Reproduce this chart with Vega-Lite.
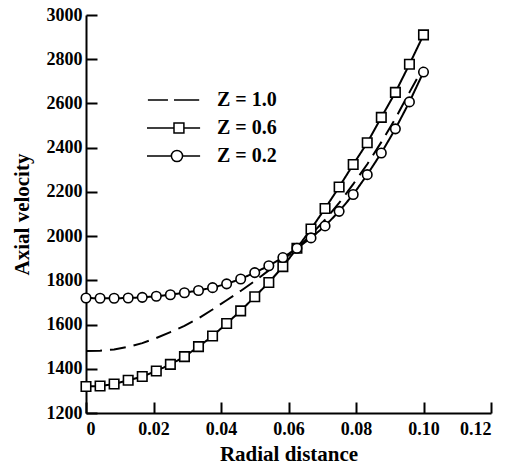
{
  "$schema": "https://vega.github.io/schema/vega-lite/v6.json",
  "width": 405,
  "height": 398,
  "autosize": {"type": "none"},
  "padding": {"left": 86, "top": 15, "right": 23, "bottom": 52},
  "background": "white",
  "config": {
    "view": {"stroke": null},
    "font": "Liberation Serif",
    "axis": {
      "grid": false,
      "domainColor": "black",
      "domainWidth": 2,
      "tickColor": "black",
      "tickWidth": 2,
      "tickSize": -11,
      "labelFont": "Liberation Serif",
      "labelFontSize": 18,
      "labelFontWeight": "bold",
      "labelColor": "black",
      "titleFont": "Liberation Serif",
      "titleFontSize": 21,
      "titleFontWeight": "bold",
      "titleColor": "black"
    },
    "legend": {
      "labelFont": "Liberation Serif",
      "labelFontSize": 20,
      "labelFontWeight": "bold",
      "labelColor": "black"
    }
  },
  "data": {
    "values": [
      {"r": 0, "v": 1480, "z": "Z = 1.0"},
      {"r": 0.00417, "v": 1482, "z": "Z = 1.0"},
      {"r": 0.00833, "v": 1487, "z": "Z = 1.0"},
      {"r": 0.0125, "v": 1499, "z": "Z = 1.0"},
      {"r": 0.01667, "v": 1516, "z": "Z = 1.0"},
      {"r": 0.02083, "v": 1539, "z": "Z = 1.0"},
      {"r": 0.025, "v": 1566, "z": "Z = 1.0"},
      {"r": 0.02917, "v": 1594, "z": "Z = 1.0"},
      {"r": 0.03333, "v": 1628, "z": "Z = 1.0"},
      {"r": 0.0375, "v": 1668, "z": "Z = 1.0"},
      {"r": 0.04167, "v": 1710, "z": "Z = 1.0"},
      {"r": 0.04583, "v": 1752, "z": "Z = 1.0"},
      {"r": 0.05, "v": 1797, "z": "Z = 1.0"},
      {"r": 0.05417, "v": 1845, "z": "Z = 1.0"},
      {"r": 0.05833, "v": 1893, "z": "Z = 1.0"},
      {"r": 0.0625, "v": 1943, "z": "Z = 1.0"},
      {"r": 0.06667, "v": 2006, "z": "Z = 1.0"},
      {"r": 0.07083, "v": 2074, "z": "Z = 1.0"},
      {"r": 0.075, "v": 2150, "z": "Z = 1.0"},
      {"r": 0.07917, "v": 2235, "z": "Z = 1.0"},
      {"r": 0.08333, "v": 2325, "z": "Z = 1.0"},
      {"r": 0.0875, "v": 2425, "z": "Z = 1.0"},
      {"r": 0.09167, "v": 2532, "z": "Z = 1.0"},
      {"r": 0.09583, "v": 2650, "z": "Z = 1.0"},
      {"r": 0.1, "v": 2765, "z": "Z = 1.0"},
      {"r": 0, "v": 1320, "z": "Z = 0.6"},
      {"r": 0.00417, "v": 1322, "z": "Z = 0.6"},
      {"r": 0.00833, "v": 1331, "z": "Z = 0.6"},
      {"r": 0.0125, "v": 1348, "z": "Z = 0.6"},
      {"r": 0.01667, "v": 1365, "z": "Z = 0.6"},
      {"r": 0.02083, "v": 1390, "z": "Z = 0.6"},
      {"r": 0.025, "v": 1420, "z": "Z = 0.6"},
      {"r": 0.02917, "v": 1455, "z": "Z = 0.6"},
      {"r": 0.03333, "v": 1500, "z": "Z = 0.6"},
      {"r": 0.0375, "v": 1548, "z": "Z = 0.6"},
      {"r": 0.04167, "v": 1605, "z": "Z = 0.6"},
      {"r": 0.04583, "v": 1662, "z": "Z = 0.6"},
      {"r": 0.05, "v": 1726, "z": "Z = 0.6"},
      {"r": 0.05417, "v": 1790, "z": "Z = 0.6"},
      {"r": 0.05833, "v": 1862, "z": "Z = 0.6"},
      {"r": 0.0625, "v": 1945, "z": "Z = 0.6"},
      {"r": 0.06667, "v": 2032, "z": "Z = 0.6"},
      {"r": 0.07083, "v": 2125, "z": "Z = 0.6"},
      {"r": 0.075, "v": 2222, "z": "Z = 0.6"},
      {"r": 0.07917, "v": 2324, "z": "Z = 0.6"},
      {"r": 0.08333, "v": 2422, "z": "Z = 0.6"},
      {"r": 0.0875, "v": 2537, "z": "Z = 0.6"},
      {"r": 0.09167, "v": 2650, "z": "Z = 0.6"},
      {"r": 0.09583, "v": 2777, "z": "Z = 0.6"},
      {"r": 0.1, "v": 2910, "z": "Z = 0.6"},
      {"r": 0, "v": 1720, "z": "Z = 0.2"},
      {"r": 0.00417, "v": 1719, "z": "Z = 0.2"},
      {"r": 0.00833, "v": 1719, "z": "Z = 0.2"},
      {"r": 0.0125, "v": 1720, "z": "Z = 0.2"},
      {"r": 0.01667, "v": 1723, "z": "Z = 0.2"},
      {"r": 0.02083, "v": 1728, "z": "Z = 0.2"},
      {"r": 0.025, "v": 1735, "z": "Z = 0.2"},
      {"r": 0.02917, "v": 1744, "z": "Z = 0.2"},
      {"r": 0.03333, "v": 1754, "z": "Z = 0.2"},
      {"r": 0.0375, "v": 1767, "z": "Z = 0.2"},
      {"r": 0.04167, "v": 1784, "z": "Z = 0.2"},
      {"r": 0.04583, "v": 1806, "z": "Z = 0.2"},
      {"r": 0.05, "v": 1835, "z": "Z = 0.2"},
      {"r": 0.05417, "v": 1866, "z": "Z = 0.2"},
      {"r": 0.05833, "v": 1903, "z": "Z = 0.2"},
      {"r": 0.0625, "v": 1945, "z": "Z = 0.2"},
      {"r": 0.06667, "v": 1992, "z": "Z = 0.2"},
      {"r": 0.07083, "v": 2046, "z": "Z = 0.2"},
      {"r": 0.075, "v": 2112, "z": "Z = 0.2"},
      {"r": 0.07917, "v": 2188, "z": "Z = 0.2"},
      {"r": 0.08333, "v": 2278, "z": "Z = 0.2"},
      {"r": 0.0875, "v": 2376, "z": "Z = 0.2"},
      {"r": 0.09167, "v": 2485, "z": "Z = 0.2"},
      {"r": 0.09583, "v": 2607, "z": "Z = 0.2"},
      {"r": 0.1, "v": 2742, "z": "Z = 0.2"}
    ]
  },
  "encoding": {
    "x": {
      "field": "r",
      "type": "quantitative",
      "title": "Radial distance",
      "scale": {"domain": [0, 0.12], "nice": false, "zero": false},
      "axis": {
        "values": [0, 0.02, 0.04, 0.06, 0.08, 0.1, 0.12],
        "labelExpr": "datum.value == 0 ? '0' : format(datum.value, '.2f')",
        "labelPadding": 18,
        "titlePadding": 5
      }
    },
    "y": {
      "field": "v",
      "type": "quantitative",
      "title": "Axial velocity",
      "scale": {"domain": [1200, 3000], "nice": false, "zero": false},
      "axis": {
        "values": [1200, 1400, 1600, 1800, 2000, 2200, 2400, 2600, 2800, 3000],
        "format": "d",
        "labelPadding": 15,
        "titlePadding": 14
      }
    }
  },
  "resolve": {"scale": {"shape": "independent"}, "legend": {"strokeDash": "independent", "shape": "independent"}},
  "layer": [
    {
      "mark": {"type": "line", "color": "black", "strokeWidth": 2},
      "encoding": {
        "detail": {"field": "z"},
        "strokeDash": {
          "field": "z",
          "type": "nominal",
          "scale": {"domain": ["Z = 1.0", "Z = 0.6", "Z = 0.2"], "range": [[16, 8], [1, 0], [1, 0]]},
          "legend": null
        }
      }
    },
    {
      "transform": [{"filter": "datum.z != 'Z = 1.0'"}],
      "mark": {"type": "point", "filled": true, "fill": "white", "stroke": "black", "strokeWidth": 1.6, "size": 90, "opacity": 1},
      "encoding": {
        "shape": {
          "field": "z",
          "type": "nominal",
          "scale": {"domain": ["Z = 0.6", "Z = 0.2"], "range": ["square", "circle"]},
          "legend": null
        }
      }
    },
    {
      "transform": [{"filter": "datum.v < 0"}],
      "mark": {"type": "point", "filled": true, "fill": "white", "stroke": "black", "strokeWidth": 2, "opacity": 1},
      "encoding": {
        "shape": {
          "field": "z",
          "type": "nominal",
          "scale": {
            "domain": ["Z = 1.0", "Z = 0.6", "Z = 0.2"],
            "range": [
              "M-2.9,0H-0.67M0,0H2.8",
              "M-3,0H0M1.1,0H2.9M0,-0.55H1.1V0.55H0Z",
              "M-3,0H-0.29M0.95,0H2.9M-0.29,0A0.62,0.62 0 1,0 0.95,0A0.62,0.62 0 1,0 -0.29,0Z"
            ]
          },
          "legend": {
            "title": null,
            "orient": "none",
            "legendX": 78,
            "legendY": 75,
            "padding": 0,
            "rowPadding": 8,
            "labelOffset": 33,
            "symbolSize": 324,
            "encode": {
              "symbols": {
                "update": {
                  "fill": {"value": "white"},
                  "stroke": {"value": "black"},
                  "strokeWidth": {"value": 2},
                  "size": {"value": 324},
                  "opacity": {"value": 1}
                }
              }
            }
          }
        }
      }
    }
  ]
}
